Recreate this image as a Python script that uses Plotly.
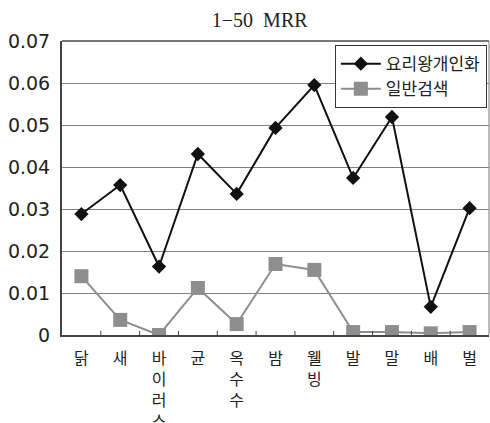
import plotly.graph_objects as go

# Categories (multi-syllable words are stacked vertically)
categories = ["닭", "새", "바이러스", "균", "옥수수", "밤", "웰빙", "발", "말", "배", "벌"]
personalized = [0.0288, 0.0357, 0.0163, 0.0431, 0.0336, 0.0493, 0.0595, 0.0374, 0.0519, 0.0067, 0.0302]
general = [0.0140, 0.0036, 0.0000, 0.0112, 0.0026, 0.0169, 0.0155, 0.0007, 0.0007, 0.0004, 0.0007]
y_ticks = [0, 0.01, 0.02, 0.03, 0.04, 0.05, 0.06, 0.07]
y_tick_text = ["0", "0.01", "0.02", "0.03", "0.04", "0.05", "0.06", "0.07"]

tick_labels = ["<br>".join(list(c)) for c in categories]
x_pos = list(range(len(categories)))

fig = go.Figure()
fig.add_trace(go.Scatter(
    x=x_pos, y=personalized, name="요리왕개인화", mode="lines+markers",
    line=dict(color="#111111", width=2),
    marker=dict(symbol="diamond", size=11, color="#111111"),
))
fig.add_trace(go.Scatter(
    x=x_pos, y=general, name="일반검색", mode="lines+markers",
    line=dict(color="#8e8e8e", width=2),
    marker=dict(symbol="square", size=14, color="#8e8e8e"),
))

fig.update_layout(
    width=490, height=423,
    margin=dict(l=62, r=1, t=41, b=88, autoexpand=False),
    paper_bgcolor="white", plot_bgcolor="white",
    title=dict(text="1\u221250  MRR", x=0.53, xanchor="center", y=0.952, yanchor="middle",
               font=dict(family="Liberation Serif, DejaVu Serif, serif", size=20, color="#222")),
    showlegend=True,
    legend=dict(x=0.639, y=0.986, xanchor="left", yanchor="top",
                bgcolor="white", bordercolor="#333", borderwidth=1,
                font=dict(family="Noto Sans CJK KR", size=17, color="#222"),
                itemwidth=40, tracegroupgap=0),
    xaxis=dict(
        range=[-0.5, len(categories) - 0.5],
        tickmode="array", tickvals=x_pos, ticktext=tick_labels,
        ticks="", showgrid=False, automargin=False,
        showline=True, linecolor="#444", linewidth=2, mirror=False,
        ticklabelstandoff=8,
        tickfont=dict(family="Noto Sans CJK KR", size=16, color="#222"),
        zeroline=False,
    ),
    yaxis=dict(
        range=[0, 0.07], tickmode="array", tickvals=y_ticks, ticktext=y_tick_text,
        showgrid=True, gridcolor="#808080", gridwidth=1, automargin=False,
        showline=True, linecolor="#444", linewidth=2,
        ticks="", ticklabelstandoff=6,
        tickfont=dict(family="DejaVu Sans", size=19, color="#222"),
        zeroline=False,
    ),
)

# Category boundary tick marks along the bottom axis and the gray frame on top/right
shapes = []
for i in range(1, len(categories)):
    shapes.append(dict(type="line", xref="x", yref="paper", x0=i - 0.5, x1=i - 0.5,
                       y0=0, y1=0.014, line=dict(color="#444", width=1)))
shapes.append(dict(type="line", xref="paper", yref="paper", x0=0, x1=1, y0=1, y1=1,
                   line=dict(color="#777", width=2)))
shapes.append(dict(type="line", xref="paper", yref="paper", x0=1, x1=1, y0=0, y1=1,
                   line=dict(color="#777", width=1)))
fig.update_layout(shapes=shapes)

fig.write_html("out.html")
